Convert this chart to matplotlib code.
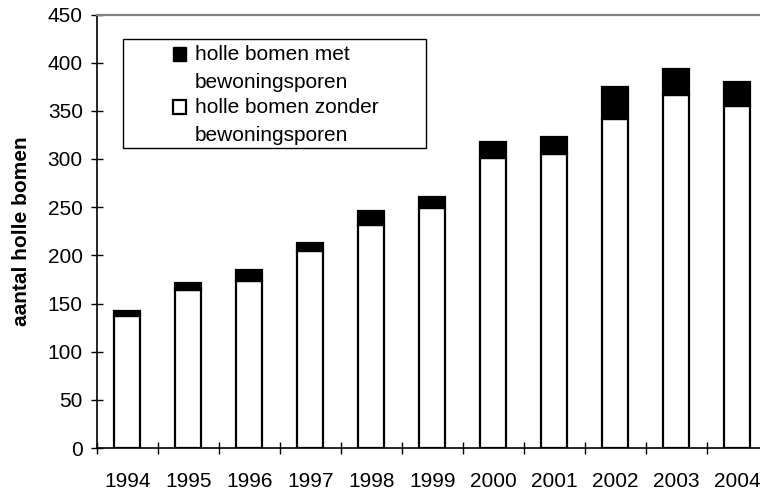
import matplotlib.pyplot as plt
from matplotlib.patches import Patch, Rectangle
from matplotlib.legend_handler import HandlerPatch

# Data
years = ['1994', '1995', '1996', '1997', '1998', '1999', '2000', '2001', '2002', '2003', '2004']
zonder = [137, 164, 173, 205, 232, 249, 301, 305, 342, 366, 355]
met = [5, 7, 12, 8, 14, 12, 17, 18, 33, 27, 25]
yticks = [0, 50, 100, 150, 200, 250, 300, 350, 400, 450]

plt.rcParams['font.family'] = ['Liberation Sans', 'DejaVu Sans']

W, H = 760, 492
fig = plt.figure(figsize=(W / 100, H / 100), dpi=100)
ax = fig.add_axes([96.7 / W, 1 - 448 / H, 671 / W, (448 - 14.5) / H])

x = list(range(len(years)))
ax.bar(x, zonder, width=0.43, color='white', edgecolor='black', linewidth=1.6, zorder=2)
ax.bar(x, met, width=0.43, bottom=zonder, color='black', edgecolor='black', linewidth=1.6, zorder=2)

ax.set_xlim(-0.5, len(years) - 0.5)
ax.set_ylim(0, 450)
ax.set_yticks(yticks)

# ticks between categories, labels at the centres
ax.set_xticks([i - 0.5 for i in x] + [len(years) - 0.5])
ax.set_xticklabels([])
ax.set_xticks(x, minor=True)
ax.set_xticklabels(years, minor=True)
ax.tick_params(axis='x', which='major', direction='inout', length=9, width=1)
ax.tick_params(axis='x', which='minor', length=0, pad=17, labelsize=15)
ax.tick_params(axis='y', direction='inout', length=8, width=1, pad=6, labelsize=15)

ax.spines['right'].set_visible(False)
ax.spines['top'].set_color('#808080')
ax.spines['top'].set_linewidth(1.6)
ax.spines['left'].set_linewidth(1.2)
ax.spines['bottom'].set_linewidth(1.2)

ax.set_ylabel('aantal holle bomen', fontsize=15, fontweight='bold', labelpad=12)


# legend squares sit next to the first line of each label
def top_square(legend, orig_handle, xdescent, ydescent, width, height, fontsize):
    return Rectangle((-xdescent, -ydescent + 10.5), width, height)


handles = [Patch(facecolor='black', edgecolor='black'),
           Patch(facecolor='white', edgecolor='black', linewidth=1.6)]
labels = ['holle bomen met\nbewoningsporen', 'holle bomen zonder\nbewoningsporen']
leg = ax.legend(handles, labels, loc='center', frameon=False, fontsize=15,
                bbox_to_anchor=(275.5 / W, 1 - 95 / H), bbox_transform=fig.transFigure,
                handlelength=0.62, handleheight=0.62, handletextpad=0.43, labelspacing=0.32,
                handler_map={Patch: HandlerPatch(patch_func=top_square)})
for t in leg.get_texts():
    t.set_linespacing(1.56)
fig.add_artist(Rectangle((123 / W, 1 - 148 / H), (426 - 123) / W, (148 - 39) / H,
                         transform=fig.transFigure, facecolor='none', edgecolor='black', linewidth=1))

plt.savefig('out.png', dpi=100)
